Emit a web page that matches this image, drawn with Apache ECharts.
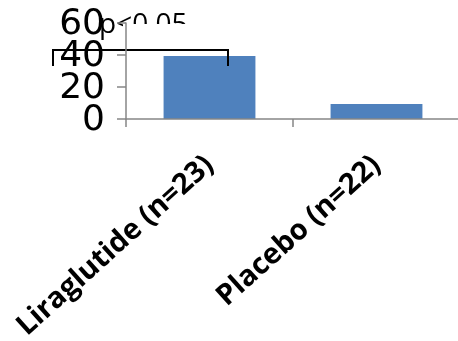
<!DOCTYPE html>
<html><head><meta charset="utf-8">
<script src="https://cdn.jsdelivr.net/npm/echarts@6/dist/echarts.min.js"></script>
<style>html,body{margin:0;padding:0;background:#fff}#c{width:458px;height:341px}</style>
</head><body><div id="c"></div>
<script>
var categories = ['Liraglutide (n=23)', 'Placebo (n=22)'];
var values = [39.3, 9.3];
var yTicks = [0, 20, 40, 60];
var annotationText = 'p<0.05';

var chart = echarts.init(document.getElementById('c'), null, {renderer: 'canvas'});
chart.setOption({
  animation: false,
  grid: {left: 126, right: -2, top: 23, bottom: 222, containLabel: false, outerBoundsMode: 'none'},
  xAxis: {
    type: 'category', data: categories, z: 10,
    axisLine: {lineStyle: {color: '#868686', width: 1.5}},
    axisTick: {show: true, length: 8, lineStyle: {color: '#868686', width: 1.5}},
    axisLabel: {rotate: 42, color: '#000', fontSize: 29, fontWeight: 'bold', fontFamily: 'Open Sans', margin: 42, interval: 0}
  },
  yAxis: {
    type: 'value', min: yTicks[0], max: yTicks[yTicks.length - 1], interval: 20, z: 10,
    splitLine: {show: false},
    axisLine: {show: true, lineStyle: {color: '#868686', width: 1.5}},
    axisTick: {show: false},
    axisLabel: {show: false}
  },
  series: [{
    type: 'bar', data: values, barWidth: '55%',
    itemStyle: {color: '#4F81BD'}
  }]
});

var graphics = [
  {type: 'text', z: 1, style: {x: 99, y: 25, verticalAlign: 'middle', text: annotationText, font: '28px "Open Sans"', fill: '#000'}},
  {type: 'rect', z: 2, shape: {x: 123, y: 24, width: 120, height: 24}, style: {fill: '#fff'}},
  {type: 'polyline', z: 3, shape: {points: [[53, 66], [53, 50], [228, 50], [228, 66]]}, style: {stroke: '#000', lineWidth: 2, fill: null}}
];
var yAxisX = 126;
yTicks.forEach(function (v) {
  var py = chart.convertToPixel({yAxisIndex: 0}, v);
  graphics.push({type: 'line', z: 20, shape: {x1: yAxisX - 9, y1: py, x2: yAxisX, y2: py}, style: {stroke: '#868686', lineWidth: 1.5}});
  graphics.push({type: 'text', z: 20, style: {x: yAxisX - 21, y: py + 2, text: String(v), align: 'right', verticalAlign: 'middle', font: '36px "DejaVu Sans"', fill: '#000'}});
});
chart.setOption({graphic: graphics});
</script></body></html>
